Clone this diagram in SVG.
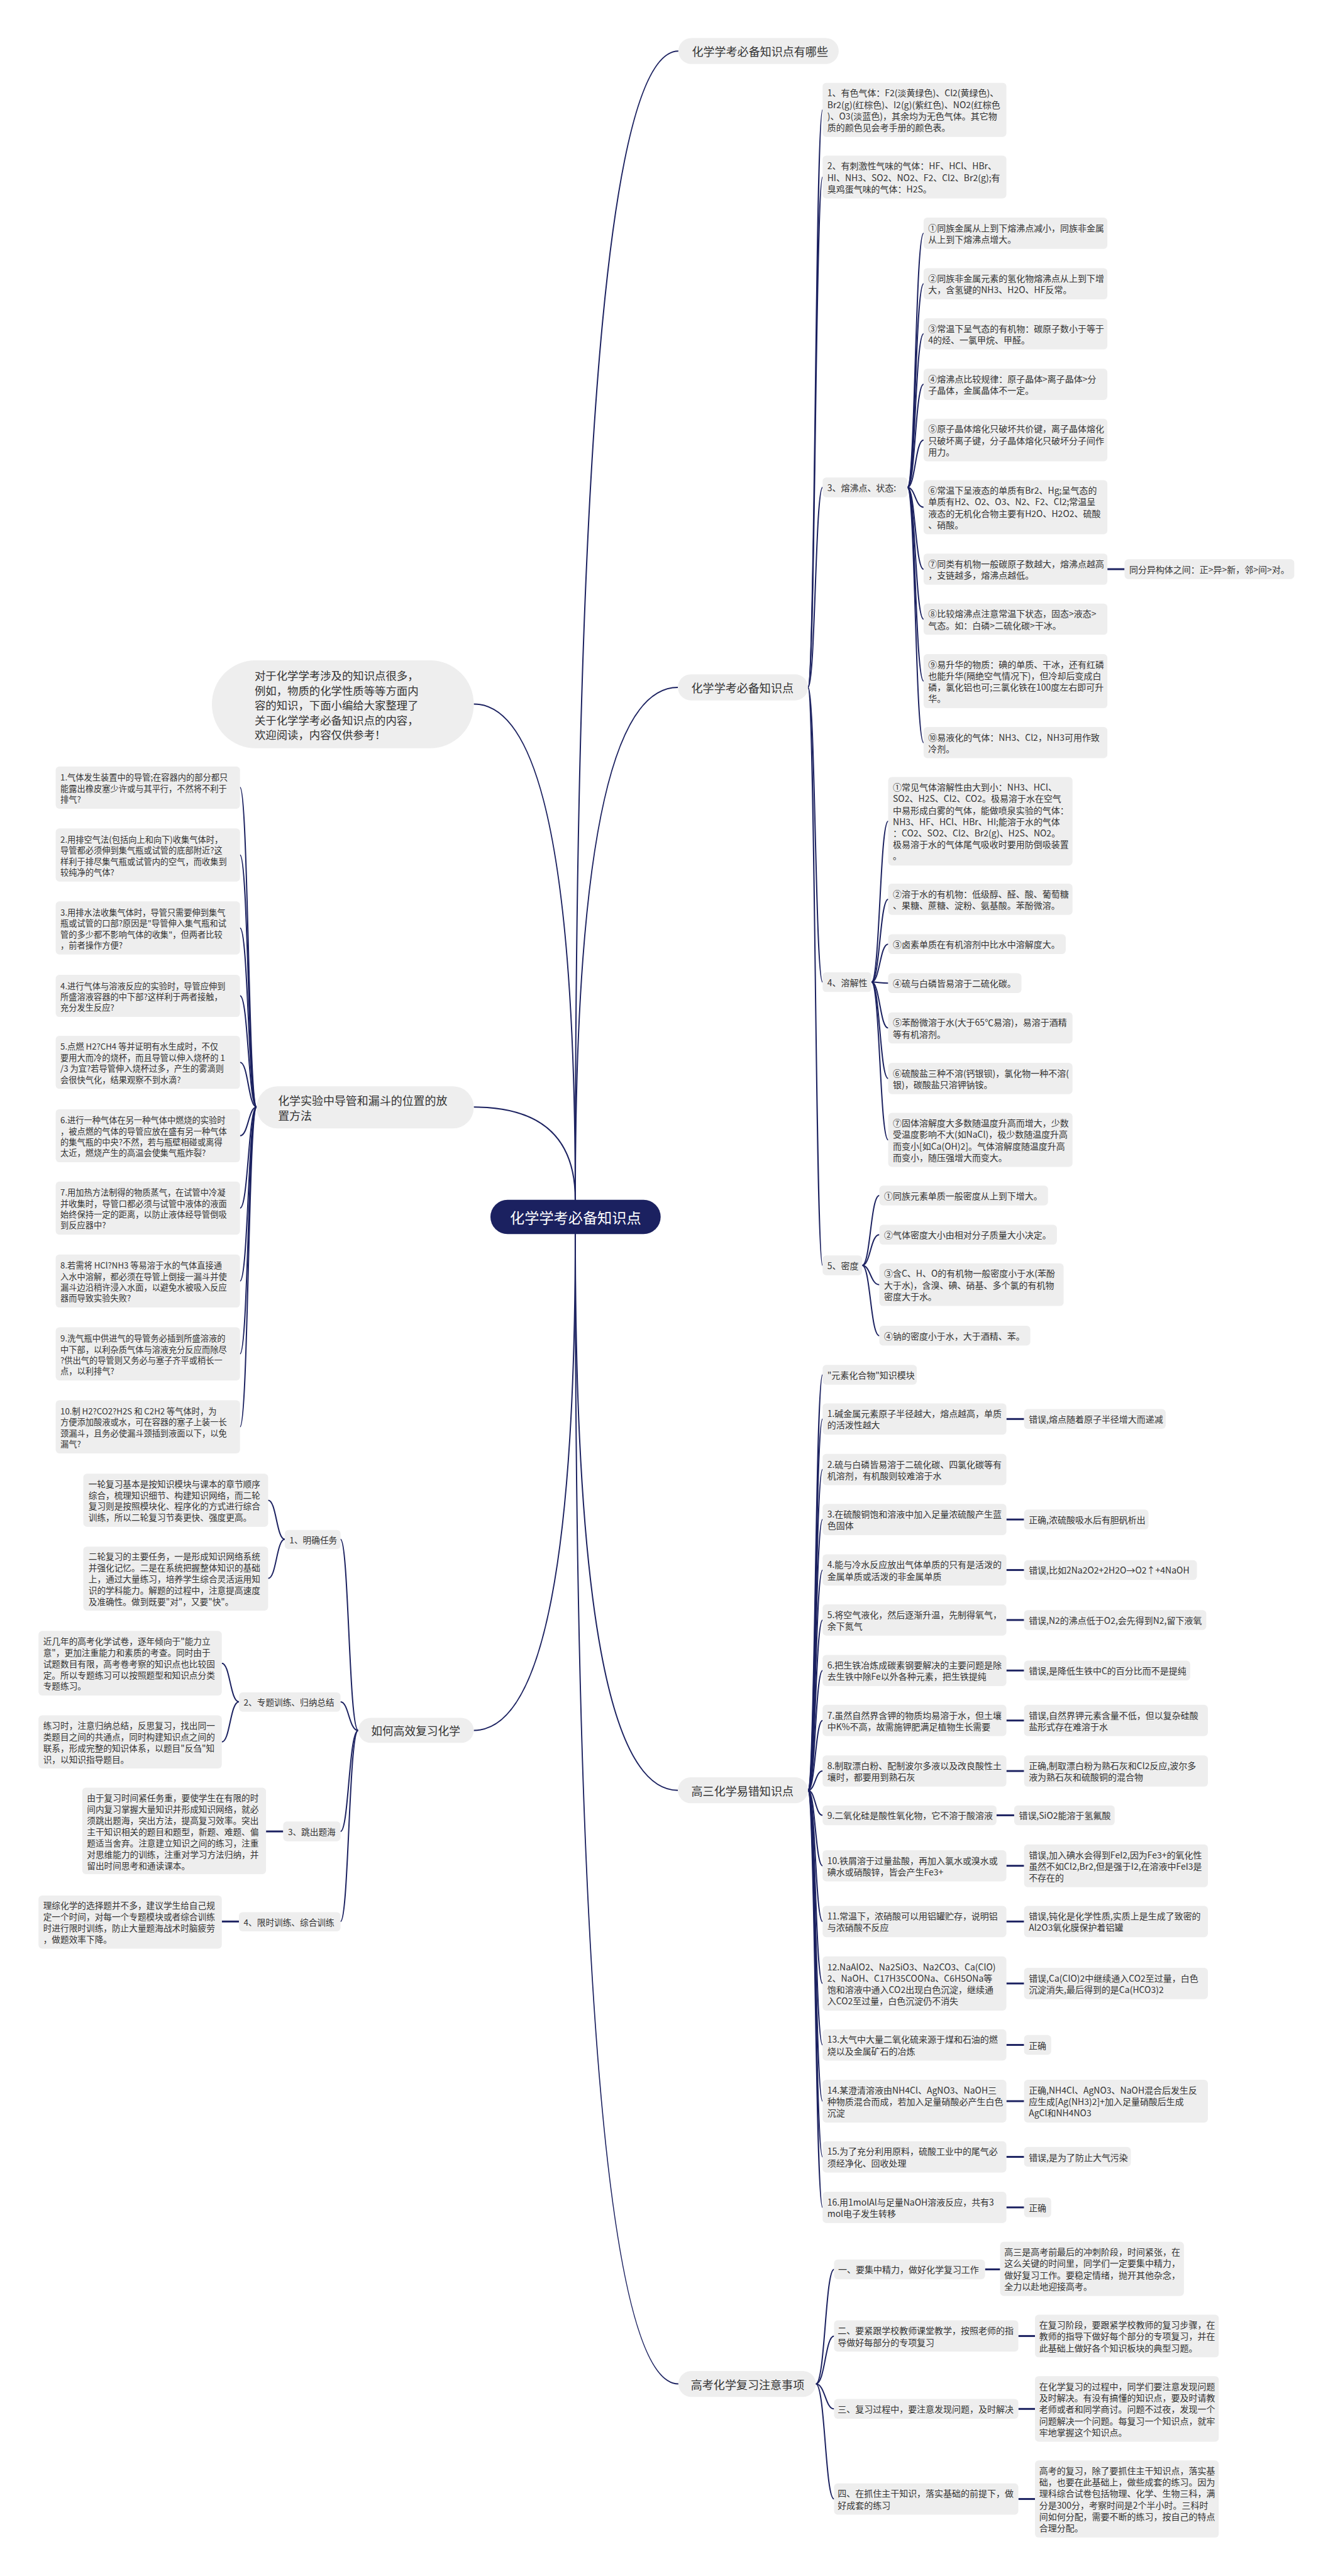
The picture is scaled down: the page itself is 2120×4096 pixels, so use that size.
<svg xmlns="http://www.w3.org/2000/svg" width="2120" height="4096" viewBox="0 0 2120 4096">
<style>
.nd{fill:#eeeeee}
.t{font-family:"Noto Sans CJK SC","Noto Sans",sans-serif;fill:#333333;font-size:16.9px;dominant-baseline:central}
.tl{font-size:16px}
.tm{font-size:16.5px}
.tb{font-size:21.8px}
.tr{font-size:28px;fill:#ffffff}
.c{fill:none;stroke:#1b2160;stroke-width:2.4}
.a{fill:none;stroke:#1b2160;stroke-width:3.6}
</style>
<rect x="0" y="0" width="2120" height="4096" fill="#ffffff"/>
<g transform="scale(0.828)">
<g id="connectors">
<path class="c" d="M1105,2304 Q1105,98 1303,98"/>
<path class="c" d="M1105,2304 Q1105,1320 1302,1320"/>
<path class="c" d="M1105,2370 Q1105,3438 1302,3438"/>
<path class="c" d="M1105,2370 Q1105,4578 1303,4578"/>
<path class="c" d="M1105,2304 Q1105,1352 910,1352"/>
<path class="c" d="M1105,2304 Q1105,2126 910,2126"/>
<path class="c" d="M1105,2370 Q1105,3323 910,3323"/>
<path class="c" d="M1552,1320 C1566,1320 1566,211 1580,211"/>
<path class="c" d="M1552,1320 C1566,1320 1566,340 1580,340"/>
<path class="c" d="M1552,1320 C1566,1320 1566,936 1580,936"/>
<path class="c" d="M1552,1320 C1566,1320 1566,1886 1580,1886"/>
<path class="c" d="M1552,1320 C1566,1320 1566,2430 1580,2430"/>
<path class="c" d="M1743,936 C1758,936 1758,448 1774,448"/>
<path class="c" d="M1743,936 C1758,936 1758,545 1774,545"/>
<path class="c" d="M1743,936 C1758,936 1758,641 1774,641"/>
<path class="c" d="M1743,936 C1758,936 1758,738 1774,738"/>
<path class="c" d="M1743,936 C1758,936 1758,845 1774,845"/>
<path class="c" d="M1743,936 C1758,936 1758,974 1774,974"/>
<path class="c" d="M1743,936 C1758,936 1758,1093 1774,1093"/>
<path class="c" d="M1743,936 C1758,936 1758,1189 1774,1189"/>
<path class="c" d="M1743,936 C1758,936 1758,1308 1774,1308"/>
<path class="c" d="M1743,936 C1758,936 1758,1426 1774,1426"/>
<path class="a" d="M2127,1093 L2160,1093"/>
<path class="c" d="M1674,1886 C1690,1886 1690,1577 1706,1577"/>
<path class="c" d="M1674,1886 C1690,1886 1690,1727 1706,1727"/>
<path class="c" d="M1674,1886 C1690,1886 1690,1813 1706,1813"/>
<path class="c" d="M1674,1886 C1690,1886 1690,1888 1706,1888"/>
<path class="c" d="M1674,1886 C1690,1886 1690,1974 1706,1974"/>
<path class="c" d="M1674,1886 C1690,1886 1690,2071 1706,2071"/>
<path class="c" d="M1674,1886 C1690,1886 1690,2189 1706,2189"/>
<path class="c" d="M1656,2430 C1672,2430 1672,2296 1689,2296"/>
<path class="c" d="M1656,2430 C1672,2430 1672,2371 1689,2371"/>
<path class="c" d="M1656,2430 C1672,2430 1672,2467 1689,2467"/>
<path class="c" d="M1656,2430 C1672,2430 1672,2565 1689,2565"/>
<path class="c" d="M1552,3438 C1566,3438 1566,2640 1580,2640"/>
<path class="c" d="M1552,3438 C1566,3438 1566,2725 1580,2725"/>
<path class="c" d="M1552,3438 C1566,3438 1566,2822 1580,2822"/>
<path class="c" d="M1552,3438 C1566,3438 1566,2918 1580,2918"/>
<path class="c" d="M1552,3438 C1566,3438 1566,3015 1580,3015"/>
<path class="c" d="M1552,3438 C1566,3438 1566,3111 1580,3111"/>
<path class="c" d="M1552,3438 C1566,3438 1566,3208 1580,3208"/>
<path class="c" d="M1552,3438 C1566,3438 1566,3304 1580,3304"/>
<path class="c" d="M1552,3438 C1566,3438 1566,3401 1580,3401"/>
<path class="c" d="M1552,3438 C1566,3438 1566,3486 1580,3486"/>
<path class="c" d="M1552,3438 C1566,3438 1566,3583 1580,3583"/>
<path class="c" d="M1552,3438 C1566,3438 1566,3690 1580,3690"/>
<path class="c" d="M1552,3438 C1566,3438 1566,3809 1580,3809"/>
<path class="c" d="M1552,3438 C1566,3438 1566,3927 1580,3927"/>
<path class="c" d="M1552,3438 C1566,3438 1566,4035 1580,4035"/>
<path class="c" d="M1552,3438 C1566,3438 1566,4142 1580,4142"/>
<path class="c" d="M1552,3438 C1566,3438 1566,4239 1580,4239"/>
<path class="a" d="M1933,2725 L1967,2725"/>
<path class="a" d="M1933,2918 L1967,2918"/>
<path class="a" d="M1933,3015 L1967,3015"/>
<path class="a" d="M1933,3111 L1967,3111"/>
<path class="a" d="M1933,3208 L1967,3208"/>
<path class="a" d="M1933,3304 L1967,3304"/>
<path class="a" d="M1933,3401 L1967,3401"/>
<path class="a" d="M1914,3486 L1948,3486"/>
<path class="a" d="M1933,3583 L1967,3583"/>
<path class="a" d="M1933,3690 L1967,3690"/>
<path class="a" d="M1933,3809 L1967,3809"/>
<path class="a" d="M1933,3927 L1967,3927"/>
<path class="a" d="M1933,4035 L1967,4035"/>
<path class="a" d="M1933,4142 L1967,4142"/>
<path class="a" d="M1933,4239 L1967,4239"/>
<path class="c" d="M1567,4578 C1585,4578 1585,4358 1602,4358"/>
<path class="c" d="M1567,4578 C1585,4578 1585,4486 1602,4486"/>
<path class="c" d="M1567,4578 C1585,4578 1585,4626 1602,4626"/>
<path class="c" d="M1567,4578 C1585,4578 1585,4799 1602,4799"/>
<path class="a" d="M1892,4358 L1921,4358"/>
<path class="a" d="M1956,4486 L1988,4486"/>
<path class="a" d="M1956,4626 L1988,4626"/>
<path class="a" d="M1956,4799 L1988,4799"/>
<path class="c" d="M493,2126 C477,2126 477,1512 461,1512"/>
<path class="c" d="M493,2126 C477,2126 477,1642 461,1642"/>
<path class="c" d="M493,2126 C477,2126 477,1782 461,1782"/>
<path class="c" d="M493,2126 C477,2126 477,1912 461,1912"/>
<path class="c" d="M493,2126 C477,2126 477,2040 461,2040"/>
<path class="c" d="M493,2126 C477,2126 477,2181 461,2181"/>
<path class="c" d="M493,2126 C477,2126 477,2320 461,2320"/>
<path class="c" d="M493,2126 C477,2126 477,2460 461,2460"/>
<path class="c" d="M493,2126 C477,2126 477,2600 461,2600"/>
<path class="c" d="M493,2126 C477,2126 477,2740 461,2740"/>
<path class="c" d="M688,3323 C670,3323 670,2956 654,2956"/>
<path class="c" d="M688,3323 C670,3323 670,3268 654,3268"/>
<path class="c" d="M688,3323 C670,3323 670,3517 654,3517"/>
<path class="c" d="M688,3323 C670,3323 670,3690 654,3690"/>
<path class="c" d="M547,2956 C531,2956 531,2881 515,2881"/>
<path class="c" d="M547,2956 C531,2956 531,3031 515,3031"/>
<path class="c" d="M459,3268 C442,3268 442,3194 426,3194"/>
<path class="c" d="M459,3268 C442,3268 442,3345 426,3345"/>
<path class="a" d="M544,3517 L511,3517"/>
<path class="a" d="M459,3690 L426,3690"/>
</g>

<g id="root"><rect x="942" y="2304" width="327" height="66" rx="33" fill="#1b2160"/><text class="t tr" x="1105.5" y="2337" text-anchor="middle">化学学考必备知识点</text></g>

<g id="b-youna"><rect class="nd" x="1303" y="73" width="308" height="50" rx="25"/><text class="t tb" x="1329" y="98">化学学考必备知识点有哪些</text></g>
<g id="b-zhishi"><rect class="nd" x="1302" y="1295" width="250" height="50" rx="25"/><text class="t tb" x="1328" y="1320">化学学考必备知识点</text></g>
<g id="b-gaosan"><rect class="nd" x="1302" y="3413" width="250" height="50" rx="25"/><text class="t tb" x="1328" y="3438">高三化学易错知识点</text></g>
<g id="b-gaokao"><rect class="nd" x="1303" y="4553" width="264" height="50" rx="25"/><text class="t tb" x="1327" y="4578">高考化学复习注意事项</text></g>

<g id="k1"><rect class="nd" x="1580" y="159" width="353" height="104" rx="7"/><text class="t"><tspan x="1589" y="178">1、有色气体：F2(淡黄绿色)、Cl2(黄绿色)、</tspan><tspan x="1589" y="200">Br2(g)(红棕色)、I2(g)(紫红色)、NO2(红棕色</tspan><tspan x="1589" y="222">)、O3(淡蓝色)，其余均为无色气体。其它物</tspan><tspan x="1589" y="244">质的颜色见会考手册的颜色表。</tspan></text></g>
<g id="k2"><rect class="nd" x="1580" y="299" width="353" height="82" rx="7"/><text class="t"><tspan x="1589" y="318">2、有刺激性气味的气体：HF、HCl、HBr、</tspan><tspan x="1589" y="340">HI、NH3、SO2、NO2、F2、Cl2、Br2(g);有</tspan><tspan x="1589" y="362">臭鸡蛋气味的气体：H2S。</tspan></text></g>
<g id="k3"><rect class="nd" x="1580" y="917" width="163" height="38" rx="7"/><text class="t" x="1589" y="936">3、熔沸点、状态:</text></g>
<g id="k3-1"><rect class="nd" x="1774" y="418" width="353" height="60" rx="7"/><text class="t"><tspan x="1783" y="437">①同族金属从上到下熔沸点减小，同族非金属</tspan><tspan x="1783" y="459">从上到下熔沸点增大。</tspan></text></g>
<g id="k3-2"><rect class="nd" x="1774" y="515" width="353" height="60" rx="7"/><text class="t"><tspan x="1783" y="534">②同族非金属元素的氢化物熔沸点从上到下增</tspan><tspan x="1783" y="556">大，含氢键的NH3、H2O、HF反常。</tspan></text></g>
<g id="k3-3"><rect class="nd" x="1774" y="611" width="353" height="60" rx="7"/><text class="t"><tspan x="1783" y="630">③常温下呈气态的有机物：碳原子数小于等于</tspan><tspan x="1783" y="652">4的烃、一氯甲烷、甲醛。</tspan></text></g>
<g id="k3-4"><rect class="nd" x="1774" y="708" width="353" height="60" rx="7"/><text class="t"><tspan x="1783" y="727">④熔沸点比较规律：原子晶体&gt;离子晶体&gt;分</tspan><tspan x="1783" y="749">子晶体，金属晶体不一定。</tspan></text></g>
<g id="k3-5"><rect class="nd" x="1774" y="804" width="353" height="82" rx="7"/><text class="t"><tspan x="1783" y="823">⑤原子晶体熔化只破坏共价键，离子晶体熔化</tspan><tspan x="1783" y="845">只破坏离子键，分子晶体熔化只破坏分子间作</tspan><tspan x="1783" y="867">用力。</tspan></text></g>
<g id="k3-6"><rect class="nd" x="1774" y="922" width="353" height="104" rx="7"/><text class="t"><tspan x="1783" y="941">⑥常温下呈液态的单质有Br2、Hg;呈气态的</tspan><tspan x="1783" y="963">单质有H2、O2、O3、N2、F2、Cl2;常温呈</tspan><tspan x="1783" y="985">液态的无机化合物主要有H2O、H2O2、硫酸</tspan><tspan x="1783" y="1007">、硝酸。</tspan></text></g>
<g id="k3-7"><rect class="nd" x="1774" y="1063" width="353" height="60" rx="7"/><text class="t"><tspan x="1783" y="1082">⑦同类有机物一般碳原子数越大，熔沸点越高</tspan><tspan x="1783" y="1104">，支链越多，熔沸点越低。</tspan></text></g>
<g id="k3-7a"><rect class="nd" x="2160" y="1074" width="326" height="38" rx="7"/><text class="t" x="2169" y="1093">同分异构体之间：正&gt;异&gt;新，邻&gt;间&gt;对。</text></g>
<g id="k3-8"><rect class="nd" x="1774" y="1159" width="353" height="60" rx="7"/><text class="t"><tspan x="1783" y="1178">⑧比较熔沸点注意常温下状态，固态&gt;液态&gt;</tspan><tspan x="1783" y="1200">气态。如：白磷&gt;二硫化碳&gt;干冰。</tspan></text></g>
<g id="k3-9"><rect class="nd" x="1774" y="1256" width="353" height="104" rx="7"/><text class="t"><tspan x="1783" y="1275">⑨易升华的物质：碘的单质、干冰，还有红磷</tspan><tspan x="1783" y="1297">也能升华(隔绝空气情况下)，但冷却后变成白</tspan><tspan x="1783" y="1319">磷，氯化铝也可;三氯化铁在100度左右即可升</tspan><tspan x="1783" y="1341">华。</tspan></text></g>
<g id="k3-10"><rect class="nd" x="1774" y="1396" width="353" height="60" rx="7"/><text class="t"><tspan x="1783" y="1415">⑩易液化的气体：NH3、Cl2，NH3可用作致</tspan><tspan x="1783" y="1437">冷剂。</tspan></text></g>

<g id="k4"><rect class="nd" x="1580" y="1867" width="94" height="38" rx="7"/><text class="t" x="1589" y="1886">4、溶解性</text></g>
<g id="k4-1"><rect class="nd" x="1706" y="1492" width="354" height="170" rx="7"/><text class="t"><tspan x="1715" y="1511">①常见气体溶解性由大到小：NH3、HCl、</tspan><tspan x="1715" y="1533">SO2、H2S、Cl2、CO2。极易溶于水在空气</tspan><tspan x="1715" y="1555">中易形成白雾的气体，能做喷泉实验的气体：</tspan><tspan x="1715" y="1577">NH3、HF、HCl、HBr、HI;能溶于水的气体</tspan><tspan x="1715" y="1599">：CO2、SO2、Cl2、Br2(g)、H2S、NO2。</tspan><tspan x="1715" y="1621">极易溶于水的气体尾气吸收时要用防倒吸装置</tspan><tspan x="1715" y="1643">。</tspan></text></g>
<g id="k4-2"><rect class="nd" x="1706" y="1697" width="354" height="60" rx="7"/><text class="t"><tspan x="1715" y="1716">②溶于水的有机物：低级醇、醛、酸、葡萄糖</tspan><tspan x="1715" y="1738">、果糖、蔗糖、淀粉、氨基酸。苯酚微溶。</tspan></text></g>
<g id="k4-3"><rect class="nd" x="1706" y="1794" width="341" height="38" rx="7"/><text class="t" x="1715" y="1813">③卤素单质在有机溶剂中比水中溶解度大。</text></g>
<g id="k4-4"><rect class="nd" x="1706" y="1869" width="256" height="38" rx="7"/><text class="t" x="1715" y="1888">④硫与白磷皆易溶于二硫化碳。</text></g>
<g id="k4-5"><rect class="nd" x="1706" y="1944" width="354" height="60" rx="7"/><text class="t"><tspan x="1715" y="1963">⑤苯酚微溶于水(大于65℃易溶)，易溶于酒精</tspan><tspan x="1715" y="1985">等有机溶剂。</tspan></text></g>
<g id="k4-6"><rect class="nd" x="1706" y="2041" width="354" height="60" rx="7"/><text class="t"><tspan x="1715" y="2060">⑥硫酸盐三种不溶(钙银钡)，氯化物一种不溶(</tspan><tspan x="1715" y="2082">银)，碳酸盐只溶钾钠铵。</tspan></text></g>
<g id="k4-7"><rect class="nd" x="1706" y="2137" width="354" height="104" rx="7"/><text class="t"><tspan x="1715" y="2156">⑦固体溶解度大多数随温度升高而增大，少数</tspan><tspan x="1715" y="2178">受温度影响不大(如NaCl)，极少数随温度升高</tspan><tspan x="1715" y="2200">而变小[如Ca(OH)2]。气体溶解度随温度升高</tspan><tspan x="1715" y="2222">而变小，随压强增大而变大。</tspan></text></g>

<g id="k5"><rect class="nd" x="1580" y="2411" width="76" height="38" rx="7"/><text class="t" x="1589" y="2430">5、密度</text></g>
<g id="k5-1"><rect class="nd" x="1689" y="2277" width="324" height="38" rx="7"/><text class="t" x="1698" y="2296">①同族元素单质一般密度从上到下增大。</text></g>
<g id="k5-2"><rect class="nd" x="1689" y="2352" width="341" height="38" rx="7"/><text class="t" x="1698" y="2371">②气体密度大小由相对分子质量大小决定。</text></g>
<g id="k5-3"><rect class="nd" x="1689" y="2426" width="354" height="82" rx="7"/><text class="t"><tspan x="1698" y="2445">③含C、H、O的有机物一般密度小于水(苯酚</tspan><tspan x="1698" y="2467">大于水)，含溴、碘、硝基、多个氯的有机物</tspan><tspan x="1698" y="2489">密度大于水。</tspan></text></g>
<g id="k5-4"><rect class="nd" x="1689" y="2546" width="290" height="38" rx="7"/><text class="t" x="1698" y="2565">④钠的密度小于水，大于酒精、苯。</text></g>

<g id="e0"><rect class="nd" x="1580" y="2621" width="181" height="38" rx="7"/><text class="t" x="1589" y="2640">"元素化合物"知识模块</text></g>
<g id="e1"><rect class="nd" x="1580" y="2695" width="353" height="60" rx="7"/><text class="t"><tspan x="1589" y="2714">1.碱金属元素原子半径越大，熔点越高，单质</tspan><tspan x="1589" y="2736">的活泼性越大</tspan></text></g>
<g id="e1a"><rect class="nd" x="1967" y="2706" width="272" height="38" rx="7"/><text class="t" x="1976" y="2725">错误,熔点随着原子半径增大而递减</text></g>
<g id="e2"><rect class="nd" x="1580" y="2792" width="353" height="60" rx="7"/><text class="t"><tspan x="1589" y="2811">2.硫与白磷皆易溶于二硫化碳、四氯化碳等有</tspan><tspan x="1589" y="2833">机溶剂，有机酸则较难溶于水</tspan></text></g>
<g id="e3"><rect class="nd" x="1580" y="2888" width="353" height="60" rx="7"/><text class="t"><tspan x="1589" y="2907">3.在硫酸铜饱和溶液中加入足量浓硫酸产生蓝</tspan><tspan x="1589" y="2929">色固体</tspan></text></g>
<g id="e3a"><rect class="nd" x="1967" y="2899" width="239" height="38" rx="7"/><text class="t" x="1976" y="2918">正确,浓硫酸吸水后有胆矾析出</text></g>
<g id="e4"><rect class="nd" x="1580" y="2985" width="353" height="60" rx="7"/><text class="t"><tspan x="1589" y="3004">4.能与冷水反应放出气体单质的只有是活泼的</tspan><tspan x="1589" y="3026">金属单质或活泼的非金属单质</tspan></text></g>
<g id="e4a"><rect class="nd" x="1967" y="2996" width="332" height="38" rx="7"/><text class="t" x="1976" y="3015">错误,比如2Na2O2+2H2O→O2↑+4NaOH</text></g>
<g id="e5"><rect class="nd" x="1580" y="3081" width="353" height="60" rx="7"/><text class="t"><tspan x="1589" y="3100">5.将空气液化，然后逐渐升温，先制得氧气，</tspan><tspan x="1589" y="3122">余下氮气</tspan></text></g>
<g id="e5a"><rect class="nd" x="1967" y="3092" width="350" height="38" rx="7"/><text class="t" x="1976" y="3111">错误,N2的沸点低于O2,会先得到N2,留下液氧</text></g>
<g id="e6"><rect class="nd" x="1580" y="3178" width="353" height="60" rx="7"/><text class="t"><tspan x="1589" y="3197">6.把生铁冶炼成碳素钢要解决的主要问题是除</tspan><tspan x="1589" y="3219">去生铁中除Fe以外各种元素，把生铁提纯</tspan></text></g>
<g id="e6a"><rect class="nd" x="1967" y="3189" width="319" height="38" rx="7"/><text class="t" x="1976" y="3208">错误,是降低生铁中C的百分比而不是提纯</text></g>
<g id="e7"><rect class="nd" x="1580" y="3274" width="353" height="60" rx="7"/><text class="t"><tspan x="1589" y="3293">7.虽然自然界含钾的物质均易溶于水，但土壤</tspan><tspan x="1589" y="3315">中K%不高，故需施钾肥满足植物生长需要</tspan></text></g>
<g id="e7a"><rect class="nd" x="1967" y="3274" width="353" height="60" rx="7"/><text class="t"><tspan x="1976" y="3293">错误,自然界钾元素含量不低，但以复杂硅酸</tspan><tspan x="1976" y="3315">盐形式存在难溶于水</tspan></text></g>
<g id="e8"><rect class="nd" x="1580" y="3371" width="353" height="60" rx="7"/><text class="t"><tspan x="1589" y="3390">8.制取漂白粉、配制波尔多液以及改良酸性土</tspan><tspan x="1589" y="3412">壤时，都要用到熟石灰</tspan></text></g>
<g id="e8a"><rect class="nd" x="1967" y="3371" width="353" height="60" rx="7"/><text class="t"><tspan x="1976" y="3390">正确,制取漂白粉为熟石灰和Cl2反应,波尔多</tspan><tspan x="1976" y="3412">液为熟石灰和硫酸铜的混合物</tspan></text></g>
<g id="e9"><rect class="nd" x="1580" y="3467" width="334" height="38" rx="7"/><text class="t" x="1589" y="3486">9.二氧化硅是酸性氧化物，它不溶于酸溶液</text></g>
<g id="e9a"><rect class="nd" x="1948" y="3467" width="193" height="38" rx="7"/><text class="t" x="1957" y="3486">错误,SiO2能溶于氢氟酸</text></g>
<g id="e10"><rect class="nd" x="1580" y="3553" width="353" height="60" rx="7"/><text class="t"><tspan x="1589" y="3572">10.铁屑溶于过量盐酸，再加入氯水或溴水或</tspan><tspan x="1589" y="3594">碘水或硝酸锌，皆会产生Fe3+</tspan></text></g>
<g id="e10a"><rect class="nd" x="1967" y="3542" width="353" height="82" rx="7"/><text class="t"><tspan x="1976" y="3561">错误,加入碘水会得到FeI2,因为Fe3+的氧化性</tspan><tspan x="1976" y="3583">虽然不如Cl2,Br2,但是强于I2,在溶液中FeI3是</tspan><tspan x="1976" y="3605">不存在的</tspan></text></g>
<g id="e11"><rect class="nd" x="1580" y="3660" width="353" height="60" rx="7"/><text class="t"><tspan x="1589" y="3679">11.常温下，浓硝酸可以用铝罐贮存，说明铝</tspan><tspan x="1589" y="3701">与浓硝酸不反应</tspan></text></g>
<g id="e11a"><rect class="nd" x="1967" y="3660" width="353" height="60" rx="7"/><text class="t"><tspan x="1976" y="3679">错误,钝化是化学性质,实质上是生成了致密的</tspan><tspan x="1976" y="3701">Al2O3氧化膜保护着铝罐</tspan></text></g>
<g id="e12"><rect class="nd" x="1580" y="3757" width="353" height="104" rx="7"/><text class="t"><tspan x="1589" y="3776">12.NaAlO2、Na2SiO3、Na2CO3、Ca(ClO)</tspan><tspan x="1589" y="3798">2、NaOH、C17H35COONa、C6H5ONa等</tspan><tspan x="1589" y="3820">饱和溶液中通入CO2出现白色沉淀，继续通</tspan><tspan x="1589" y="3842">入CO2至过量，白色沉淀仍不消失</tspan></text></g>
<g id="e12a"><rect class="nd" x="1967" y="3779" width="353" height="60" rx="7"/><text class="t"><tspan x="1976" y="3798">错误,Ca(ClO)2中继续通入CO2至过量，白色</tspan><tspan x="1976" y="3820">沉淀消失,最后得到的是Ca(HCO3)2</tspan></text></g>
<g id="e13"><rect class="nd" x="1580" y="3897" width="353" height="60" rx="7"/><text class="t"><tspan x="1589" y="3916">13.大气中大量二氧化硫来源于煤和石油的燃</tspan><tspan x="1589" y="3938">烧以及金属矿石的冶炼</tspan></text></g>
<g id="e13a"><rect class="nd" x="1967" y="3908" width="52" height="38" rx="7"/><text class="t" x="1976" y="3927">正确</text></g>
<g id="e14"><rect class="nd" x="1580" y="3994" width="353" height="82" rx="7"/><text class="t"><tspan x="1589" y="4013">14.某澄清溶液由NH4Cl、AgNO3、NaOH三</tspan><tspan x="1589" y="4035">种物质混合而成，若加入足量硝酸必产生白色</tspan><tspan x="1589" y="4057">沉淀</tspan></text></g>
<g id="e14a"><rect class="nd" x="1967" y="3994" width="353" height="82" rx="7"/><text class="t"><tspan x="1976" y="4013">正确,NH4Cl、AgNO3、NaOH混合后发生反</tspan><tspan x="1976" y="4035">应生成[Ag(NH3)2]+加入足量硝酸后生成</tspan><tspan x="1976" y="4057">AgCl和NH4NO3</tspan></text></g>
<g id="e15"><rect class="nd" x="1580" y="4112" width="353" height="60" rx="7"/><text class="t"><tspan x="1589" y="4131">15.为了充分利用原料，硫酸工业中的尾气必</tspan><tspan x="1589" y="4153">须经净化、回收处理</tspan></text></g>
<g id="e15a"><rect class="nd" x="1967" y="4123" width="205" height="38" rx="7"/><text class="t" x="1976" y="4142">错误,是为了防止大气污染</text></g>
<g id="e16"><rect class="nd" x="1580" y="4209" width="353" height="60" rx="7"/><text class="t"><tspan x="1589" y="4228">16.用1molAl与足量NaOH溶液反应，共有3</tspan><tspan x="1589" y="4250">mol电子发生转移</tspan></text></g>
<g id="e16a"><rect class="nd" x="1967" y="4220" width="52" height="38" rx="7"/><text class="t" x="1976" y="4239">正确</text></g>

<g id="g1"><rect class="nd" x="1602" y="4339" width="290" height="38" rx="7"/><text class="t" x="1610" y="4358">一、要集中精力，做好化学复习工作</text></g>
<g id="g1a"><rect class="nd" x="1921" y="4305" width="353" height="104" rx="7"/><text class="t"><tspan x="1929" y="4324">高三是高考前最后的冲刺阶段，时间紧张，在</tspan><tspan x="1929" y="4346">这么关键的时间里，同学们一定要集中精力，</tspan><tspan x="1929" y="4368">做好复习工作。要稳定情绪，抛开其他杂念，</tspan><tspan x="1929" y="4390">全力以赴地迎接高考。</tspan></text></g>
<g id="g2"><rect class="nd" x="1602" y="4456" width="354" height="60" rx="7"/><text class="t"><tspan x="1609" y="4475">二、要紧跟学校教师课堂教学，按照老师的指</tspan><tspan x="1609" y="4497">导做好每部分的专项复习</tspan></text></g>
<g id="g2a"><rect class="nd" x="1988" y="4445" width="353" height="82" rx="7"/><text class="t"><tspan x="1996" y="4464">在复习阶段，要跟紧学校教师的复习步骤，在</tspan><tspan x="1996" y="4486">教师的指导下做好每个部分的专项复习，并在</tspan><tspan x="1996" y="4508">此基础上做好各个知识板块的典型习题。</tspan></text></g>
<g id="g3"><rect class="nd" x="1602" y="4607" width="354" height="38" rx="7"/><text class="t" x="1609" y="4626">三、复习过程中，要注意发现问题，及时解决</text></g>
<g id="g3a"><rect class="nd" x="1988" y="4563" width="353" height="126" rx="7"/><text class="t"><tspan x="1996" y="4582">在化学复习的过程中，同学们要注意发现问题</tspan><tspan x="1996" y="4604">及时解决。有没有搞懂的知识点，要及时请教</tspan><tspan x="1996" y="4626">老师或者和同学商讨。问题不过夜，发现一个</tspan><tspan x="1996" y="4648">问题解决一个问题。每复习一个知识点，就牢</tspan><tspan x="1996" y="4670">牢地掌握这个知识点。</tspan></text></g>
<g id="g4"><rect class="nd" x="1602" y="4769" width="354" height="60" rx="7"/><text class="t"><tspan x="1609" y="4788">四、在抓住主干知识，落实基础的前提下，做</tspan><tspan x="1609" y="4810">好成套的练习</tspan></text></g>
<g id="g4a"><rect class="nd" x="1988" y="4725" width="353" height="148" rx="7"/><text class="t"><tspan x="1996" y="4744">高考的复习，除了要抓住主干知识点，落实基</tspan><tspan x="1996" y="4766">础，也要在此基础上，做些成套的练习。因为</tspan><tspan x="1996" y="4788">理科综合试卷包括物理、化学、生物三科，满</tspan><tspan x="1996" y="4810">分是300分，考察时间是2个半小时。三科时</tspan><tspan x="1996" y="4832">间如何分配，需要不断的练习，按自己的特点</tspan><tspan x="1996" y="4854">合理分配。</tspan></text></g>

<g id="intro"><rect class="nd" x="407" y="1268" width="503" height="169" rx="84"/><text class="t" style="font-size:21px"><tspan x="489" y="1296">对于化学学考涉及的知识点很多，</tspan><tspan x="489" y="1324.5">例如，物质的化学性质等等方面内</tspan><tspan x="489" y="1353">容的知识，下面小编给大家整理了</tspan><tspan x="489" y="1381.5">关于化学学考必备知识点的内容，</tspan><tspan x="489" y="1410">欢迎阅读，内容仅供参考！</tspan></text></g>

<g id="b-daoguan"><rect class="nd" x="493" y="2086" width="417" height="81" rx="40"/><text class="t" style="font-size:21.7px"><tspan x="534" y="2112">化学实验中导管和漏斗的位置的放</tspan><tspan x="534" y="2141">置方法</tspan></text></g>
<g id="d1"><rect class="nd" x="107" y="1472" width="354" height="81" rx="7"/><text class="t tl"><tspan x="116" y="1492">1.气体发生装置中的导管;在容器内的部分都只</tspan><tspan x="116" y="1513">能露出橡皮塞少许或与其平行，不然将不利于</tspan><tspan x="116" y="1534">排气?</tspan></text></g>
<g id="d2"><rect class="nd" x="107" y="1591" width="354" height="102" rx="7"/><text class="t tl"><tspan x="116" y="1611">2.用排空气法(包括向上和向下)收集气体时，</tspan><tspan x="116" y="1632">导管都必须伸到集气瓶或试管的底部附近?这</tspan><tspan x="116" y="1653">样利于排尽集气瓶或试管内的空气，而收集到</tspan><tspan x="116" y="1674">较纯净的气体?</tspan></text></g>
<g id="d3"><rect class="nd" x="107" y="1731" width="354" height="102" rx="7"/><text class="t tl"><tspan x="116" y="1751">3.用排水法收集气体时，导管只需要伸到集气</tspan><tspan x="116" y="1772">瓶或试管的口部?原因是"导管伸入集气瓶和试</tspan><tspan x="116" y="1793">管的多少都不影响气体的收集"，但两者比较</tspan><tspan x="116" y="1814">，前者操作方便?</tspan></text></g>
<g id="d4"><rect class="nd" x="107" y="1872" width="354" height="81" rx="7"/><text class="t tl"><tspan x="116" y="1892">4.进行气体与溶液反应的实验时，导管应伸到</tspan><tspan x="116" y="1913">所盛溶液容器的中下部?这样利于两者接触，</tspan><tspan x="116" y="1934">充分发生反应?</tspan></text></g>
<g id="d5"><rect class="nd" x="107" y="1989" width="354" height="102" rx="7"/><text class="t tl"><tspan x="116" y="2009">5.点燃 H2?CH4 等并证明有水生成时，不仅</tspan><tspan x="116" y="2030">要用大而冷的烧杯，而且导管以伸入烧杯的 1</tspan><tspan x="116" y="2051">/3 为宜?若导管伸入烧杯过多，产生的雾滴则</tspan><tspan x="116" y="2072">会很快气化，结果观察不到水滴?</tspan></text></g>
<g id="d6"><rect class="nd" x="107" y="2130" width="354" height="102" rx="7"/><text class="t tl"><tspan x="116" y="2150">6.进行一种气体在另一种气体中燃烧的实验时</tspan><tspan x="116" y="2171">，被点燃的气体的导管应放在盛有另一种气体</tspan><tspan x="116" y="2192">的集气瓶的中央?不然，若与瓶壁相碰或离得</tspan><tspan x="116" y="2213">太近，燃烧产生的高温会使集气瓶炸裂?</tspan></text></g>
<g id="d7"><rect class="nd" x="107" y="2269" width="354" height="102" rx="7"/><text class="t tl"><tspan x="116" y="2289">7.用加热方法制得的物质蒸气，在试管中冷凝</tspan><tspan x="116" y="2310">并收集时，导管口都必须与试管中液体的液面</tspan><tspan x="116" y="2331">始终保持一定的距离，以防止液体经导管倒吸</tspan><tspan x="116" y="2352">到反应器中?</tspan></text></g>
<g id="d8"><rect class="nd" x="107" y="2409" width="354" height="102" rx="7"/><text class="t tl"><tspan x="116" y="2429">8.若需将 HCl?NH3 等易溶于水的气体直接通</tspan><tspan x="116" y="2450">入水中溶解，都必须在导管上倒接一漏斗并使</tspan><tspan x="116" y="2471">漏斗边沿稍许浸入水面，以避免水被吸入反应</tspan><tspan x="116" y="2492">器而导致实验失败?</tspan></text></g>
<g id="d9"><rect class="nd" x="107" y="2549" width="354" height="102" rx="7"/><text class="t tl"><tspan x="116" y="2569">9.洗气瓶中供进气的导管务必插到所盛溶液的</tspan><tspan x="116" y="2590">中下部，以利杂质气体与溶液充分反应而除尽</tspan><tspan x="116" y="2611">?供出气的导管则又务必与塞子齐平或稍长一</tspan><tspan x="116" y="2632">点，以利排气?</tspan></text></g>
<g id="d10"><rect class="nd" x="107" y="2689" width="354" height="102" rx="7"/><text class="t tl"><tspan x="116" y="2709">10.制 H2?CO2?H2S 和 C2H2 等气体时，为</tspan><tspan x="116" y="2730">方便添加酸液或水，可在容器的塞子上装一长</tspan><tspan x="116" y="2751">颈漏斗，且务必使漏斗颈插到液面以下，以免</tspan><tspan x="116" y="2772">漏气?</tspan></text></g>

<g id="b-gaoxiao"><rect class="nd" x="688" y="3299" width="222" height="48" rx="24"/><text class="t" style="font-size:21.4px" x="713" y="3323">如何高效复习化学</text></g>
<g id="h1"><rect class="nd" x="547" y="2938" width="107" height="37" rx="7"/><text class="t tm" x="556" y="2956.5">1、明确任务</text></g>
<g id="h1a"><rect class="nd" x="160" y="2830" width="355" height="102" rx="7"/><text class="t tm"><tspan x="170" y="2848.5">一轮复习基本是按知识模块与课本的章节顺序</tspan><tspan x="170" y="2870.2">综合，梳理知识细节、构建知识网络，而二轮</tspan><tspan x="170" y="2891.9">复习则是按照模块化、程序化的方式进行综合</tspan><tspan x="170" y="2913.6">训练，所以二轮复习节奏更快、强度更高。</tspan></text></g>
<g id="h1b"><rect class="nd" x="160" y="2970" width="355" height="123" rx="7"/><text class="t tm"><tspan x="170" y="2988.5">二轮复习的主要任务，一是形成知识网络系统</tspan><tspan x="170" y="3010.2">并强化记忆。二是在系统把握整体知识的基础</tspan><tspan x="170" y="3031.9">上，通过大量练习，培养学生综合灵活运用知</tspan><tspan x="170" y="3053.6">识的学科能力。解题的过程中，注意提高速度</tspan><tspan x="170" y="3075.3">及准确性。做到既要"对"，又要"快"。</tspan></text></g>
<g id="h2"><rect class="nd" x="459" y="3250" width="195" height="37" rx="7"/><text class="t tm" x="468" y="3268.5">2、专题训练、归纳总结</text></g>
<g id="h2a"><rect class="nd" x="74" y="3132" width="352" height="124" rx="7"/><text class="t tm"><tspan x="83" y="3150.5">近几年的高考化学试卷，逐年倾向于"能力立</tspan><tspan x="83" y="3172.2">意"，更加注重能力和素质的考查。同时由于</tspan><tspan x="83" y="3193.9">试题数目有限，高考卷考察的知识点也比较固</tspan><tspan x="83" y="3215.6">定。所以专题练习可以按照题型和知识点分类</tspan><tspan x="83" y="3237.3">专题练习。</tspan></text></g>
<g id="h2b"><rect class="nd" x="74" y="3294" width="352" height="102" rx="7"/><text class="t tm"><tspan x="83" y="3312.5">练习时，注意归纳总结，反思复习，找出同一</tspan><tspan x="83" y="3334.2">类题目之间的共通点，同时构建知识点之间的</tspan><tspan x="83" y="3355.9">联系，形成完整的知识体系，以题目"反刍"知</tspan><tspan x="83" y="3377.6">识，以知识指导题目。</tspan></text></g>
<g id="h3"><rect class="nd" x="544" y="3498" width="110" height="38" rx="7"/><text class="t tm" x="553" y="3517">3、跳出题海</text></g>
<g id="h3a"><rect class="nd" x="158" y="3433" width="353" height="166" rx="7"/><text class="t tm"><tspan x="167" y="3451.5">由于复习时间紧任务重，要使学生在有限的时</tspan><tspan x="167" y="3473.2">间内复习掌握大量知识并形成知识网络，就必</tspan><tspan x="167" y="3494.9">须跳出题海，突出方法，提高复习效率。突出</tspan><tspan x="167" y="3516.6">主干知识相关的题目和题型，新题、难题、偏</tspan><tspan x="167" y="3538.3">题适当舍弃。注意建立知识之间的练习，注重</tspan><tspan x="167" y="3560">对思维能力的训练，注重对学习方法归纳，并</tspan><tspan x="167" y="3581.7">留出时间思考和通读课本。</tspan></text></g>
<g id="h4"><rect class="nd" x="459" y="3672" width="195" height="37" rx="7"/><text class="t tm" x="468" y="3690.5">4、限时训练、综合训练</text></g>
<g id="h4a"><rect class="nd" x="74" y="3640" width="352" height="102" rx="7"/><text class="t tm"><tspan x="83" y="3658.5">理综化学的选择题并不多，建议学生给自己规</tspan><tspan x="83" y="3680.2">定一个时间，对每一个专题模块或者综合训练</tspan><tspan x="83" y="3701.9">时进行限时训练，防止大量题海战术时脑疲劳</tspan><tspan x="83" y="3723.6">，做题效率下降。</tspan></text></g>
</g>
</svg>
